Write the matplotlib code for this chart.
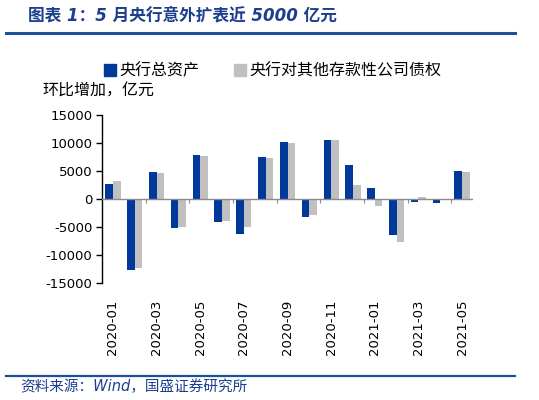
import numpy as np
import matplotlib
matplotlib.use("Agg")
import matplotlib.pyplot as plt
from matplotlib.patches import Patch
from matplotlib.lines import Line2D

plt.rcParams['font.family'] = ['DejaVu Sans', 'Noto Sans CJK SC']
plt.rcParams['axes.unicode_minus'] = False

months = ['2020-01', '2020-02', '2020-03', '2020-04', '2020-05', '2020-06',
          '2020-07', '2020-08', '2020-09', '2020-10', '2020-11', '2020-12',
          '2021-01', '2021-02', '2021-03', '2021-04', '2021-05']
# 央行总资产 环比增加 (亿元)
total_assets = [2700, -12750, 4750, -5180, 7900, -4170, -6200, 7500, 10100,
                -3200, 10600, 6050, 1900, -6370, -550, -700, 5050]
# 央行对其他存款性公司债权 环比增加 (亿元)
claims_odc = [3250, -12330, 4650, -5070, 7730, -4000, -5000, 7380, 10000,
              -2920, 10470, 2550, -1300, -7750, 350, -200, 4870]

blue = '#00399A'
gray = '#C0C0C0'
title_blue = '#1B3F8E'

fig = plt.figure(figsize=(5.39, 4.0), dpi=100)
ax = fig.add_axes([102/539, 1-283/400, 371/539, 168/400])

x = np.arange(len(months))
w = 0.35
ax.bar(x - w/2, total_assets, w, color=blue, zorder=3)
ax.bar(x + w/2, claims_odc, w, color=gray, zorder=2)

ax.set_xlim(-0.5, len(months) - 0.5)
ax.set_ylim(-15000, 15000)
ax.set_yticks(np.arange(-15000, 15001, 5000))
ax.tick_params(axis='y', direction='out', length=4, width=1, labelsize=9.5, pad=3)

ax.set_xticks(x[::2])
ax.set_xticklabels(months[::2], rotation=90, fontsize=9.5)
ax.tick_params(axis='x', length=0, pad=12)

for s in ['top', 'right', 'bottom']:
    ax.spines[s].set_visible(False)
ax.spines['left'].set_linewidth(1)

# zero line with small boundary ticks
ax.axhline(0, color='#8C8C8C', lw=1, zorder=4)
sec = ax.secondary_xaxis(0.5)
sec.set_xticks(np.arange(1.5, len(months) - 1, 2))
sec.tick_params(direction='in', length=3, color='#8C8C8C', labelbottom=False, labeltop=False)
sec.spines['top'].set_visible(False)
sec.spines['bottom'].set_visible(False)

# legend
handles = [Patch(color=blue, label='央行总资产'),
           Patch(color=gray, label='央行对其他存款性公司债权')]
fig.legend(handles=handles, loc='center left', bbox_to_anchor=(104/539, 1-71/400),
           ncol=2, frameon=False, fontsize=11.5, handlelength=0.75, handleheight=0.75,
           handletextpad=0.2, columnspacing=2.2, borderaxespad=0, borderpad=0)

fig.text(42/539, 1-90/400, '环比增加，亿元', fontsize=11.5, va='center', ha='left')

# title and source
fig.text(28/539, 1-16/400, '图表 1：5 月央行意外扩表近 5000 亿元', fontsize=12,
         fontweight='bold', style='italic', color=title_blue, va='center', ha='left')
fig.add_artist(Line2D([6/539, 515/539], [1-33/400, 1-33/400], transform=fig.transFigure,
                      color='#1F4E9A', lw=2.2))
fig.add_artist(Line2D([6/539, 515/539], [1-376/400, 1-376/400], transform=fig.transFigure,
                      color='#1F4E9A', lw=1.6))
fig.text(20/539, 1-387/400, '资料来源：Wind，国盛证券研究所', fontsize=10.5,
         style='italic', color=title_blue, va='center', ha='left')

fig.savefig('out.png', dpi=100)
